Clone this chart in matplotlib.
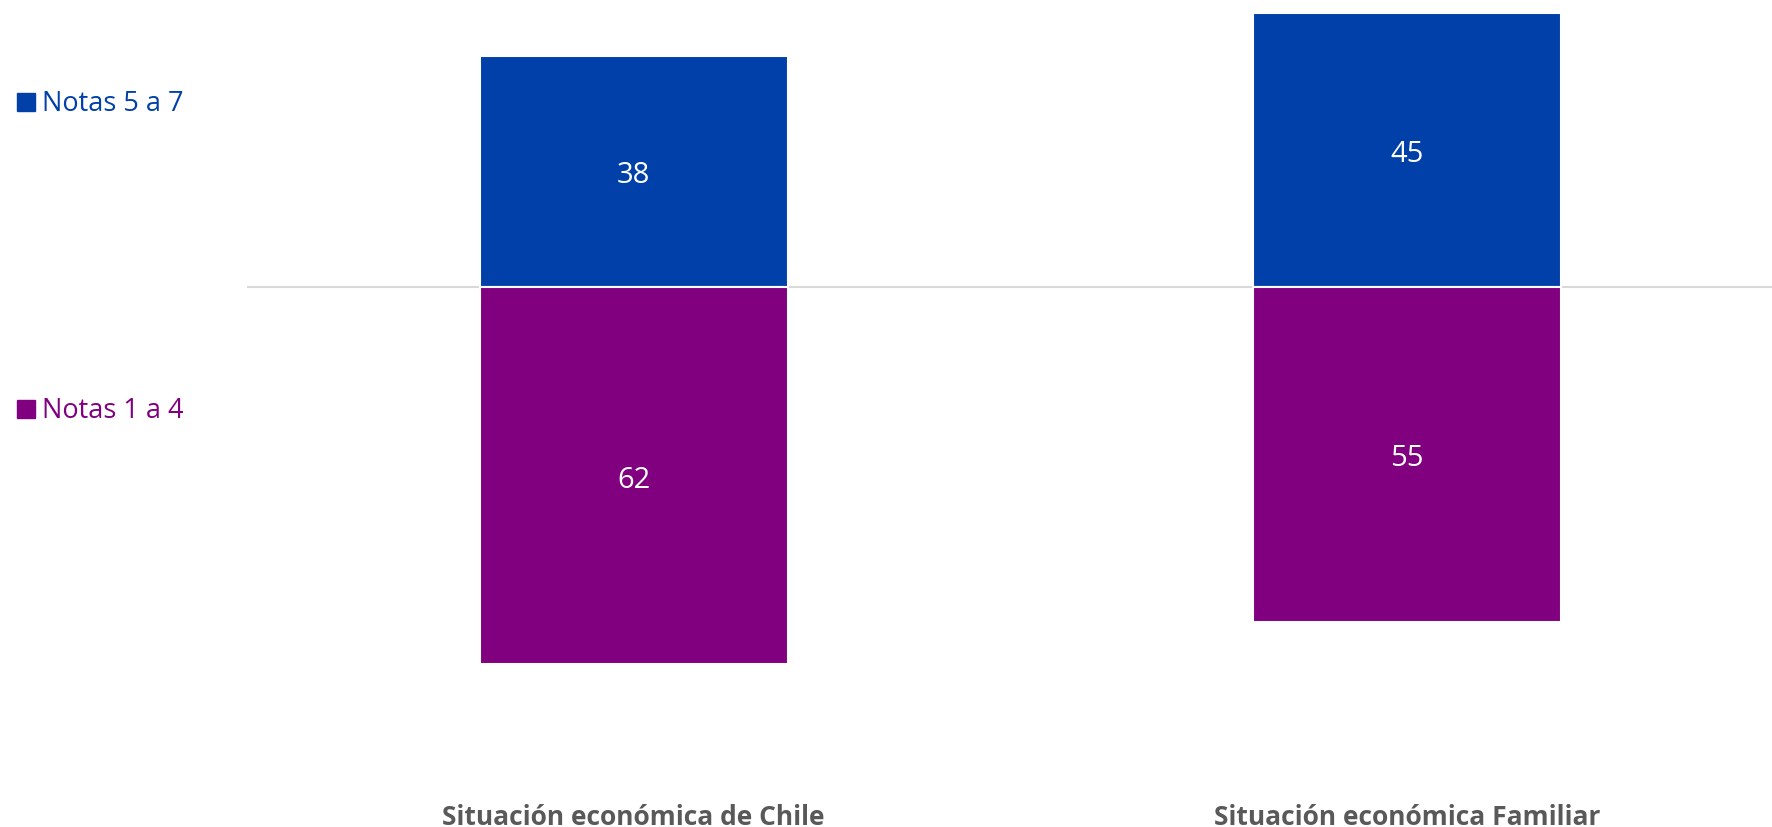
import matplotlib
matplotlib.use("Agg")
import matplotlib.pyplot as plt
from matplotlib.patches import Rectangle
from matplotlib.transforms import blended_transform_factory

categories = ["Situación económica de Chile", "Situación económica Familiar"]
notas_5_7 = [38, 45]
notas_1_4 = [62, 55]
series_names = ["Notas 5 a 7", "Notas 1 a 4"]

BLUE = "#0040A8"
PURPLE = "#800080"
GRAY = "#595959"

plt.rcParams['font.family'] = ['Open Sans', 'DejaVu Sans']

W, H = 1772, 828
fig = plt.figure(figsize=(W / 100, H / 100), dpi=100)

# axes geometry in pixels
ax_left, ax_right = 247, 1794
ax_top, ax_bottom = 7, 714
ax = fig.add_axes([ax_left / W, 1 - ax_bottom / H, (ax_right - ax_left) / W, (ax_bottom - ax_top) / H])
ax.set_ylim(-70, 46.2)
ax.set_xlim(-0.5, 1.5)

x = list(range(len(categories)))
width = 0.398
neg = [-v for v in notas_1_4]
ax.bar(x, notas_5_7, width=width, color=BLUE, edgecolor="white", linewidth=1.5, zorder=2)
ax.bar(x, neg, width=width, color=PURPLE, edgecolor="white", linewidth=1.5, zorder=2)
ax.axhline(0, color="#d9d9d9", lw=1.5, zorder=1)

for xi, v in zip(x, notas_5_7):
    ax.annotate(f"{v}", (xi, v / 2), xytext=(0, -2.5), textcoords="offset points",
                ha="center", va="center", color="white", fontsize=21)
for xi, v in zip(x, notas_1_4):
    ax.annotate(f"{v}", (xi, -v / 2), xytext=(0, -2.5), textcoords="offset points",
                ha="center", va="center", color="white", fontsize=21)

for s in ax.spines.values():
    s.set_visible(False)
ax.set_yticks([])
ax.set_xticks([])
trans = blended_transform_factory(ax.transData, fig.transFigure)
for xi, c in zip(x, categories):
    ax.text(xi, 1 - 818 / H, c, transform=trans, ha="center", va="center",
            fontsize=19, fontweight="bold", color=GRAY)

# legend entries
for name, col, yc in [(series_names[0], BLUE, 104), (series_names[1], PURPLE, 411)]:
    fig.patches.append(Rectangle((17 / W, 1 - (yc + 8) / H), 18 / W, 18 / H,
                                 transform=fig.transFigure, color=col, figure=fig))
    fig.text(42 / W, 1 - yc / H, name, ha="left", va="center", fontsize=19.5, color=col)

fig.savefig("out.png", dpi=100)
